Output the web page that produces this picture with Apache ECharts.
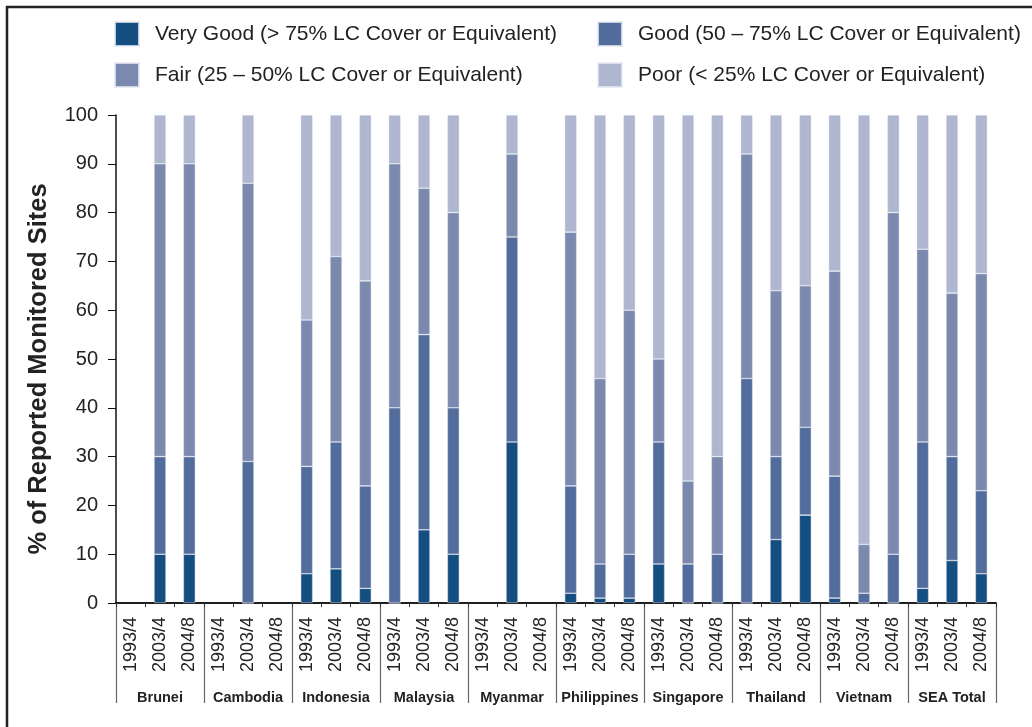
<!DOCTYPE html>
<html>
<head>
<meta charset="utf-8">
<script src="https://cdn.jsdelivr.net/npm/echarts@6/dist/echarts.min.js"></script>
<style>
  html, body { margin: 0; padding: 0; background: #fff; }
  #coral { width: 1032px; height: 727px; }
</style>
</head>
<body>
<div id="coral"></div>
<script>
// reef condition by country and survey period
var countries = ['Brunei', 'Cambodia', 'Indonesia', 'Malaysia', 'Myanmar',
  'Philippines', 'Singapore', 'Thailand', 'Vietnam', 'SEA Total']
var periods = ['1993/4', '2003/4', '2004/8']
var yTicks = [0, 10, 20, 30, 40, 50, 60, 70, 80, 90, 100]

var seriesNames = [
  'Very Good (> 75% LC Cover or Equivalent)',
  'Good (50 – 75% LC Cover or Equivalent)',
  'Fair (25 – 50% LC Cover or Equivalent)',
  'Poor (< 25% LC Cover or Equivalent)'
]

// % of sites, 3 periods per country (null = no survey)
var veryGood = [null, 10, 10, null, 0, null, 6, 7, 3, 0, 15, 10, null, 33, null,
  2, 1, 1, 8, 0, 0, 0, 13, 18, 1, 0, 0, 3, 8.7, 6]
var good = [null, 20, 20, null, 29, null, 22, 26, 21, 40, 40, 30, null, 42, null,
  22, 7, 9, 25, 8, 10, 46, 17, 18, 25, 2, 10, 30, 21.3, 17]
var fair = [null, 60, 60, null, 57, null, 30, 38, 42, 50, 30, 40, null, 17, null,
  52, 38, 50, 17, 17, 20, 46, 34, 29, 42, 10, 70, 39.5, 33.5, 44.5]
var poor = [null, 10, 10, null, 14, null, 42, 29, 34, 10, 15, 20, null, 8, null,
  24, 54, 40, 50, 75, 70, 8, 36, 35, 32, 88, 20, 27.5, 36.5, 32.5]

var colors = ['#154f82', '#526d9b', '#7b89ae', '#afb6d0']

var xCats = []
countries.forEach(function () {
  periods.forEach(function (p) { xCats.push(p) })
})

var font = '"Liberation Sans", Arial, sans-serif'
var chart = echarts.init(document.getElementById('coral'))

function legendAt (name, left, top) {
  return {
    data: [name],
    left: left,
    top: top,
    padding: 0,
    icon: 'rect',
    itemWidth: 24,
    itemHeight: 24,
    selectedMode: false,
    textStyle: { fontFamily: font, fontSize: 21, color: '#222', padding: [0, 0, 0, 11] }
  }
}

var stacks = [veryGood, good, fair, poor]

chart.setOption({
  animation: false,
  color: colors,
  graphic: [{
    type: 'polyline',
    shape: { points: [[7, 740], [7, 7], [1040, 7]] },
    style: { stroke: '#222', lineWidth: 2.5, fill: null }
  }],
  legend: [
    legendAt(seriesNames[0], 114, 21),
    legendAt(seriesNames[1], 597, 21),
    legendAt(seriesNames[2], 114, 62),
    legendAt(seriesNames[3], 597, 62)
  ],
  grid: { left: 116, right: 36, top: 115, bottom: 124 },
  xAxis: [
    {
      // country groups: long ticks act as separators
      type: 'category',
      data: countries,
      position: 'bottom',
      axisLine: { show: true, lineStyle: { color: '#111', width: 1.5 } },
      axisTick: { show: true, length: 100, lineStyle: { color: '#666', width: 1.2 } },
      axisLabel: { margin: 87, interval: 0, fontFamily: font, fontSize: 14.5, fontWeight: 'bold', color: '#222' }
    },
    {
      type: 'category',
      data: xCats,
      position: 'bottom',
      axisLine: { show: true, lineStyle: { color: '#111', width: 1.5 } },
      axisTick: { show: true, length: 4, lineStyle: { color: '#333' } },
      axisLabel: { rotate: 90, margin: 14, interval: 0, fontFamily: font, fontSize: 18, color: '#222' }
    }
  ],
  yAxis: {
    type: 'value',
    min: yTicks[0],
    max: yTicks[yTicks.length - 1],
    interval: 10,
    name: '% of Reported Monitored Sites',
    nameLocation: 'middle',
    nameGap: 64,
    nameTextStyle: { fontFamily: font, fontSize: 25.5, fontWeight: 'bold', color: '#222', padding: [0, 20, 0, 0] },
    axisLine: { show: true, lineStyle: { color: '#111', width: 1.5 } },
    axisTick: { show: true, length: 8, lineStyle: { color: '#111' } },
    axisLabel: { margin: 18, fontFamily: font, fontSize: 20, color: '#222' },
    splitLine: { show: false }
  },
  series: stacks.map(function (vals, i) {
    return {
      name: seriesNames[i],
      type: 'bar',
      stack: 'sites',
      xAxisIndex: 1,
      barWidth: 12,
      itemStyle: { color: colors[i], borderColor: 'rgba(230,234,242,0.8)', borderWidth: 0.6 },
      data: vals
    }
  })
})
</script>
</body>
</html>
